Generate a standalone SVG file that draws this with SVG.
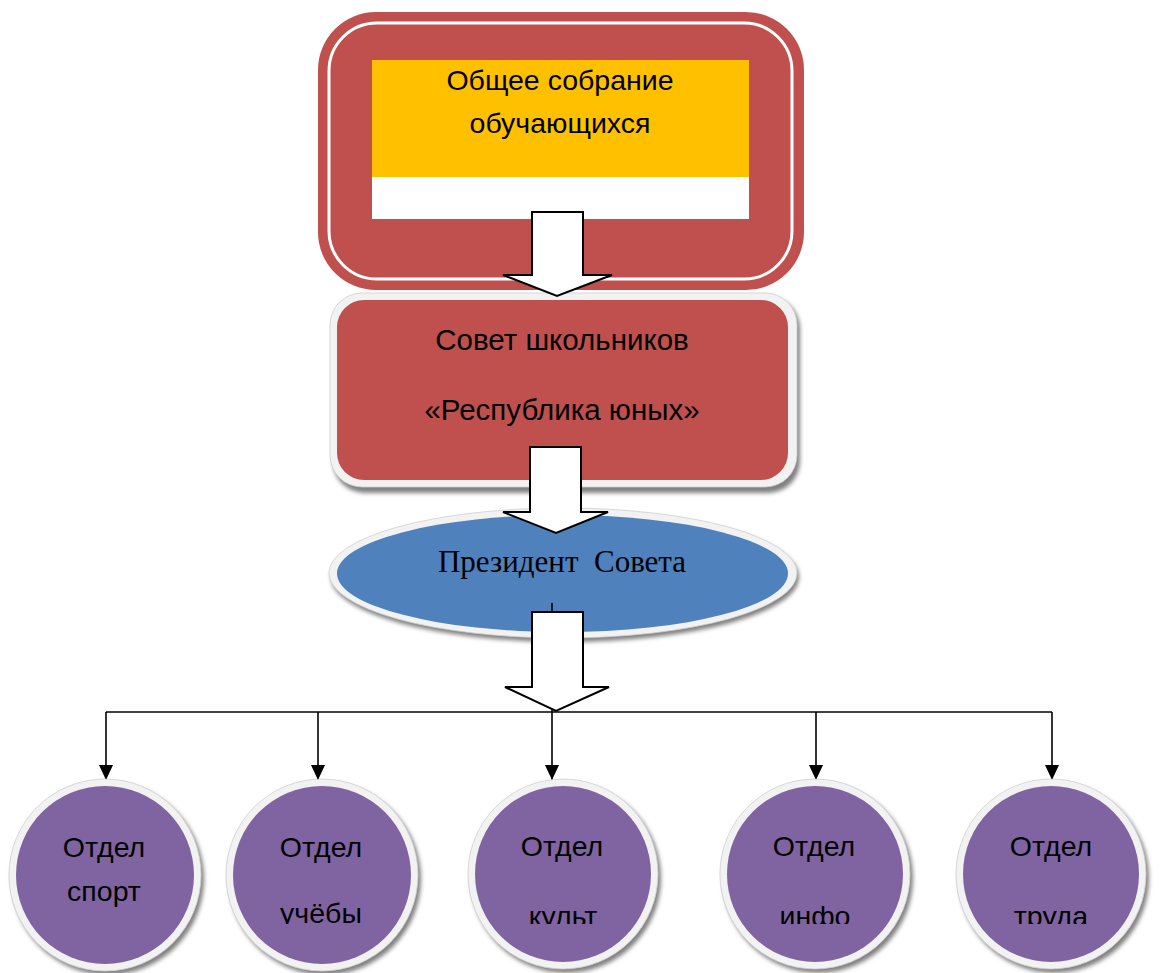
<svg xmlns="http://www.w3.org/2000/svg" width="1160" height="973" viewBox="0 0 1160 973">
<style>
.sans{font-family:"Liberation Sans",Arial,sans-serif;fill:#000}
.serif{font-family:"Liberation Serif","Times New Roman",serif;fill:#000}
.ring{fill:#f2f2f2;stroke:#cfcfcf;stroke-width:0.8}
.shadow{fill:#808080;filter:url(#blur)}
.red{fill:#C0504D}
.purple{fill:#8064A2}
.blk{fill:#fff;stroke:#000;stroke-width:2;stroke-linejoin:miter}
.conn{fill:none;stroke:#000;stroke-width:1.6}
.dept{font-size:28.5px;text-anchor:middle}
</style>
<defs>
<filter id="blur" x="-20%" y="-20%" width="140%" height="140%"><feGaussianBlur stdDeviation="2"/></filter>
<marker id="ah" markerUnits="userSpaceOnUse" markerWidth="18" markerHeight="16" refX="16" refY="7.5" orient="auto" viewBox="0 0 18 16">
<path d="M1,0.5 L16,7.5 L1,14.5 Z" fill="#000"/>
</marker>
<clipPath id="clipBottom"><rect x="0" y="0" width="1160" height="924"/></clipPath>
</defs>

<g id="node-general-meeting">
<rect class="red" x="318" y="12" width="486" height="278" rx="58"/>
<rect x="329" y="23" width="463" height="256" rx="48" fill="none" stroke="#fff" stroke-width="3"/>
<rect x="372" y="60" width="377" height="117" fill="#FFC000"/>
<rect x="372" y="177" width="377" height="42" fill="#fff"/>
<text class="sans" x="560" y="90" font-size="28.5" text-anchor="middle">Общее собрание</text>
<text class="sans" x="560" y="133" font-size="28.5" text-anchor="middle">обучающихся</text>
</g>

<g id="node-council">
<rect class="shadow" x="333" y="297" width="467" height="196" rx="32"/>
<rect class="ring" x="330" y="293" width="467" height="194" rx="32"/>
<rect class="red" x="337" y="300" width="451" height="180" rx="27"/>
<text class="sans" x="562" y="350" font-size="29.5" text-anchor="middle">Совет школьников</text>
<text class="sans" x="562" y="420" font-size="29.5" text-anchor="middle">«Республика юных»</text>
</g>

<g id="node-president">
<ellipse class="shadow" cx="565" cy="577" rx="234" ry="65"/>
<ellipse class="ring" cx="563" cy="573" rx="234" ry="65"/>
<ellipse cx="562.5" cy="573.5" rx="225.5" ry="58.5" fill="#4F81BD"/>
<text class="serif" x="562" y="572" font-size="31" text-anchor="middle" style="white-space:pre">Президент  Совета</text>
</g>

<g id="connectors">
<line class="conn" x1="552" y1="603" x2="552" y2="712"/>
<line class="conn" x1="106" y1="712" x2="1052" y2="712"/>
<line class="conn" x1="106" y1="712" x2="106" y2="780" marker-end="url(#ah)"/>
<line class="conn" x1="318" y1="712" x2="318" y2="780" marker-end="url(#ah)"/>
<line class="conn" x1="552" y1="712" x2="552" y2="780" marker-end="url(#ah)"/>
<line class="conn" x1="816" y1="712" x2="816" y2="780" marker-end="url(#ah)"/>
<line class="conn" x1="1052" y1="712" x2="1052" y2="780" marker-end="url(#ah)"/>
</g>

<g id="block-arrows">
<polygon class="blk" points="532,212 583,212 583,275 612,275 557,296 503,275 532,275"/>
<polygon class="blk" points="530,447 581,447 581,512 608,512 556,533 503,512 530,512"/>
<polygon class="blk" points="532,612 583,612 583,687 609,687 556,711 505,687 532,687"/>
</g>

<g id="node-sport">
<circle class="shadow" cx="108" cy="879" r="96"/>
<circle class="ring" cx="105" cy="875" r="96"/>
<circle class="purple" cx="105" cy="875" r="89"/>
<text class="sans dept" x="104" y="857">Отдел</text>
<text class="sans dept" x="104" y="901">спорт</text>
</g>

<g id="node-study">
<circle class="shadow" cx="325" cy="879" r="96"/>
<circle class="ring" cx="322" cy="875" r="96"/>
<circle class="purple" cx="322" cy="875" r="89"/>
<text class="sans dept" x="321" y="857">Отдел</text>
<text class="sans dept" x="321" y="923" clip-path="url(#clipBottom)">учёбы</text>
</g>

<g id="node-culture">
<circle class="shadow" cx="566" cy="878" r="95"/>
<circle class="ring" cx="563" cy="874" r="95"/>
<circle class="purple" cx="563" cy="874" r="88"/>
<text class="sans dept" x="562" y="856">Отдел</text>
<text class="sans dept" x="563" y="926" clip-path="url(#clipBottom)">культ</text>
</g>

<g id="node-info">
<circle class="shadow" cx="818" cy="878" r="95"/>
<circle class="ring" cx="815" cy="874" r="95"/>
<circle class="purple" cx="815" cy="874" r="88"/>
<text class="sans dept" x="814" y="856">Отдел</text>
<text class="sans dept" x="815" y="926" clip-path="url(#clipBottom)">инфо</text>
</g>

<g id="node-labour">
<circle class="shadow" cx="1054" cy="878" r="95"/>
<circle class="ring" cx="1051" cy="874" r="95"/>
<circle class="purple" cx="1051" cy="874" r="88"/>
<text class="sans dept" x="1051" y="856">Отдел</text>
<text class="sans dept" x="1051" y="926" clip-path="url(#clipBottom)">труда</text>
</g>
</svg>
